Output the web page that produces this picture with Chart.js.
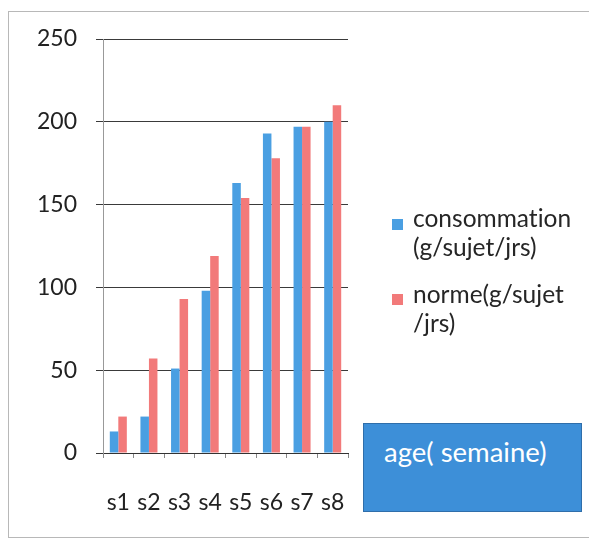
<!DOCTYPE html>
<html>
<head>
<meta charset="utf-8">
<script src="https://cdn.jsdelivr.net/npm/chart.js@4/dist/chart.umd.min.js"></script>
<style>
  html, body { margin: 0; padding: 0; background: #fff; }
  #wrap { position: relative; width: 589px; height: 538px; overflow: hidden; font-family: Lato, "Open Sans", sans-serif; font-variant-ligatures: none; }
  #frame { position: absolute; left: 8px; top: 11px; width: 600px; height: 527px; border: 1px solid #b8b8b8; box-sizing: border-box; }
  canvas { position: absolute; left: 0; top: 0; }
  .leg { position: absolute; left: 413px; font-size: 24.5px; line-height: 29px; color: #262626; white-space: nowrap; }
  .sw { position: absolute; width: 11px; height: 11px; }
  #axisBox { position: absolute; left: 363px; top: 423px; width: 219px; height: 89px; background: #3d8fd8; border: 1px solid #2f6eaa; box-sizing: border-box; color: #fff; font-size: 27.5px; }
  #axisBox span { position: absolute; left: 20px; top: 11px; white-space: nowrap; }
</style>
</head>
<body>
<div id="wrap">
  <div id="frame"></div>
  <canvas id="c" width="589" height="538"></canvas>
  <div class="sw" style="left:392px; top:219px; background:#4a9fe2;"></div>
  <div class="leg" style="top:203px;">consommation<br>(g/sujet/jrs)</div>
  <div class="sw" style="left:392px; top:294px; background:#f27a7a;"></div>
  <div class="leg" style="top:279px;">norme(g/sujet<br>/jrs)</div>
  <div id="axisBox"><span>age( semaine)</span></div>
</div>
<script>
const semaines = ['s1', 's2', 's3', 's4', 's5', 's6', 's7', 's8'];
const consommation = [13, 22, 51, 98, 163, 193, 197, 200];
const norme = [22, 57, 93, 119, 154, 178, 197, 210];
const yTicks = [0, 50, 100, 150, 200, 250];

const tickFont = { family: 'Lato, "Open Sans", sans-serif', size: 23 };

new Chart(document.getElementById('c'), {
  type: 'bar',
  data: {
    labels: semaines,
    datasets: [
      { label: 'consommation (g/sujet/jrs)', data: consommation, backgroundColor: '#4a9fe2', categoryPercentage: 0.556, barPercentage: 1.0 },
      { label: 'norme(g/sujet /jrs)', data: norme, backgroundColor: '#f27a7a', categoryPercentage: 0.556, barPercentage: 1.0 }
    ]
  },
  options: {
    responsive: false,
    animation: false,
    layout: { padding: { left: 0, right: 241, top: 39, bottom: 0 } },
    plugins: { legend: { display: false }, tooltip: { enabled: false } },
    scales: {
      x: {
        grid: { display: true, drawOnChartArea: false, drawTicks: true, tickLength: 5, color: '#888' },
        border: { display: true, color: '#333', width: 1 },
        ticks: { font: tickFont, color: '#222', padding: 31, maxRotation: 0, autoSkip: false },
        afterFit: (s) => { s.height = 85; }
      },
      y: {
        min: 0,
        max: 250,
        afterBuildTicks: (s) => { s.ticks = yTicks.map(v => ({ value: v })); },
        grid: { color: '#3a3a3a', lineWidth: 1, tickLength: 7, drawTicks: true },
        border: { display: true, color: '#999', width: 1 },
        ticks: { font: tickFont, color: '#222', padding: 19 },
        afterFit: (s) => { s.width = 103; }
      }
    }
  }
});
</script>
</body>
</html>
